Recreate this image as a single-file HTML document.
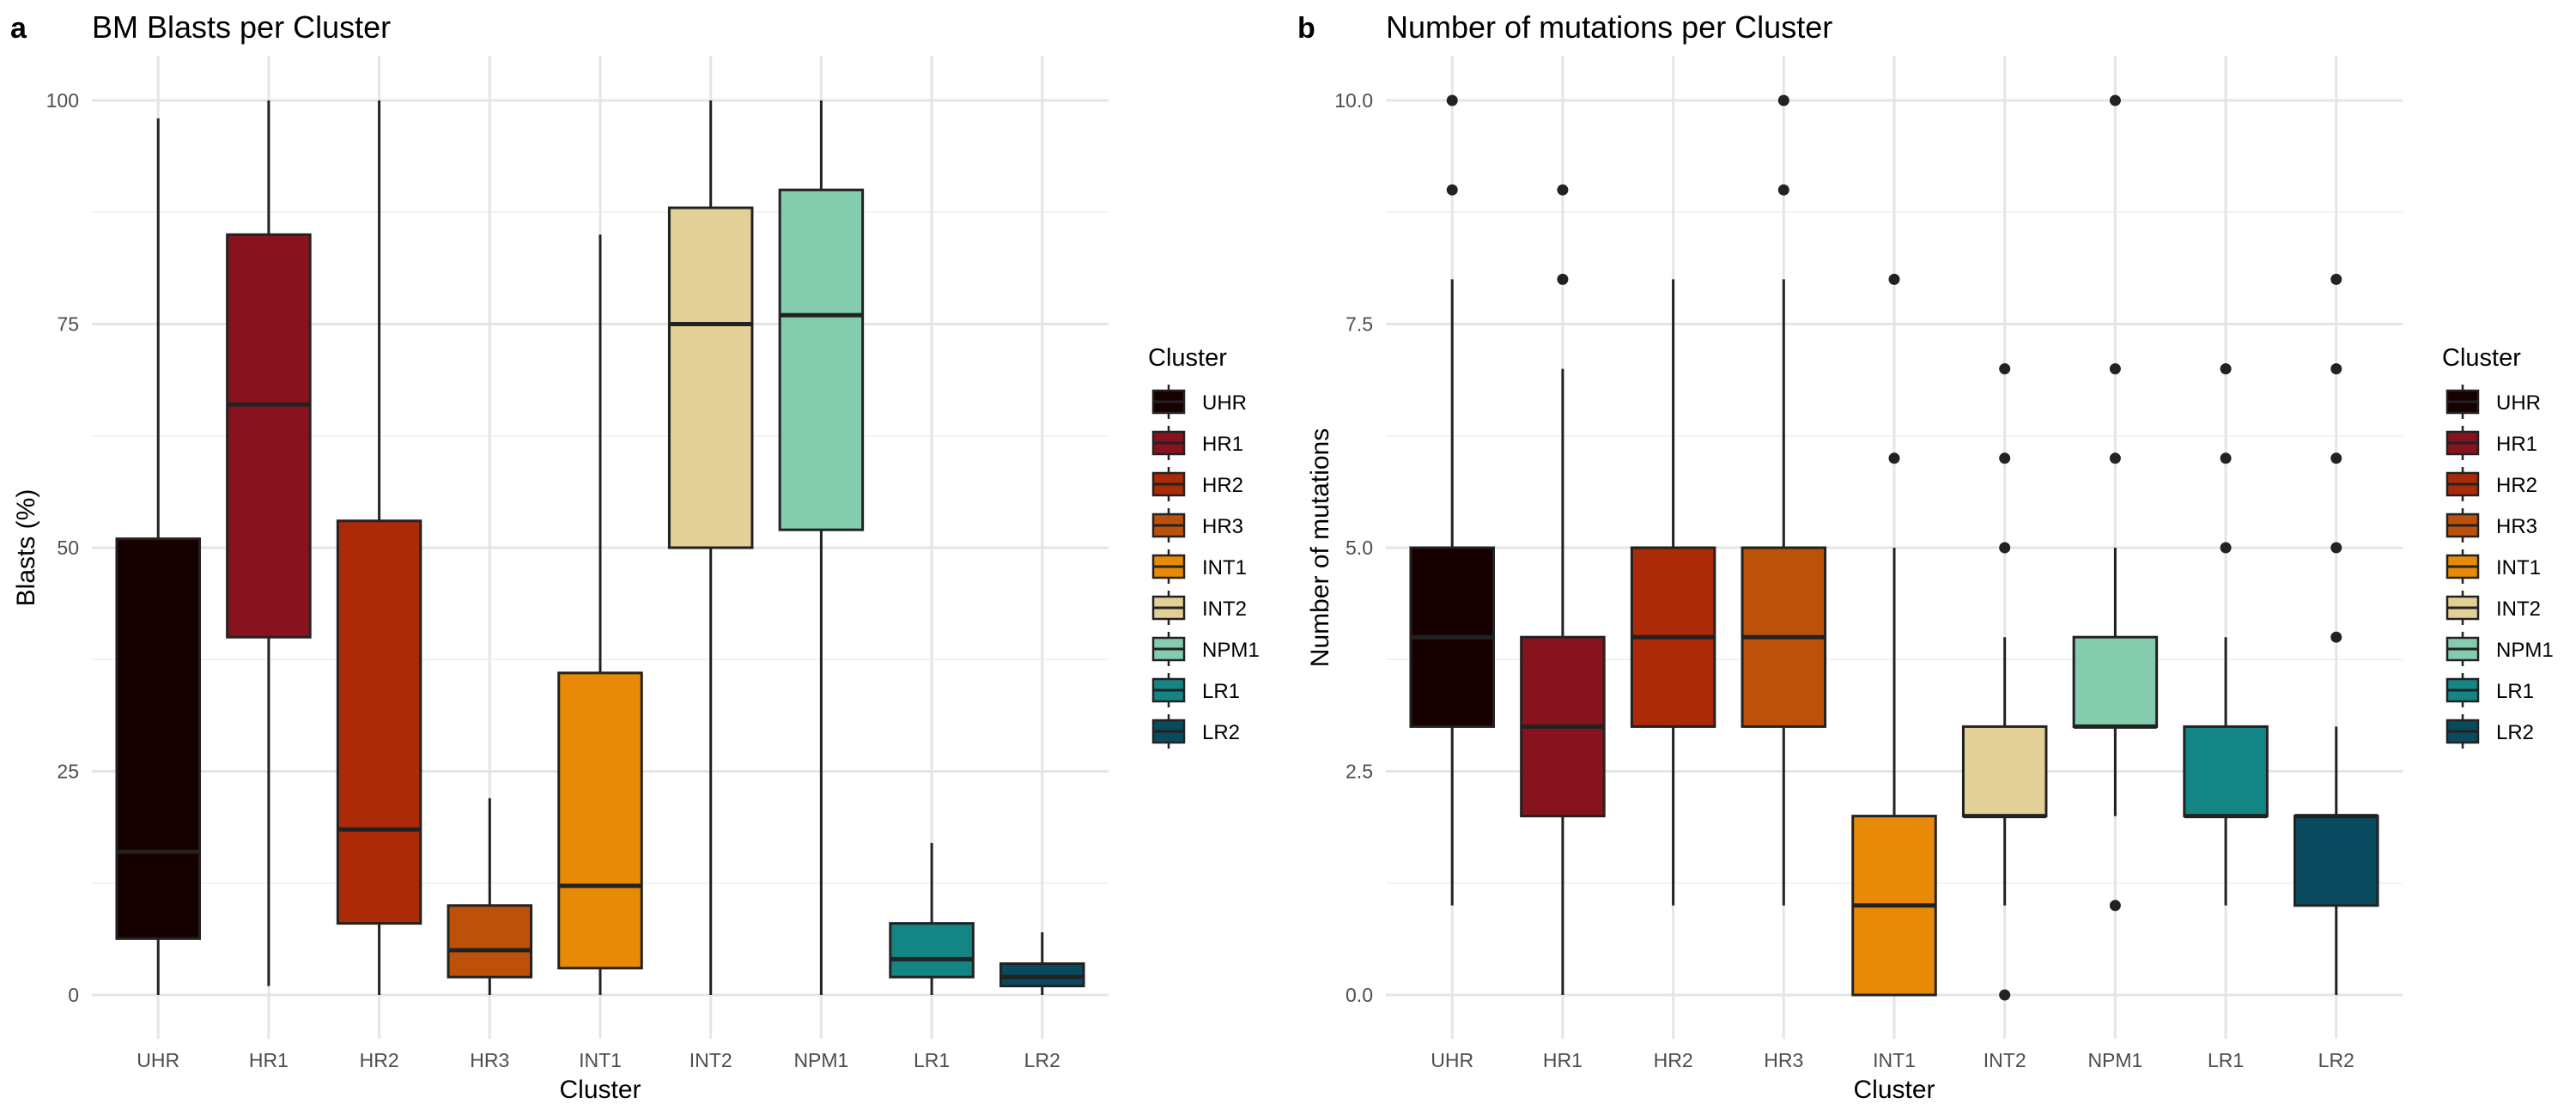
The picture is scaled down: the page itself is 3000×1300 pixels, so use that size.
<!DOCTYPE html>
<html><head><meta charset="utf-8"><style>
body{margin:0;background:#fff;}
svg{display:block;font-family:"Liberation Sans",Arial,sans-serif;}
</style></head><body>
<svg id="chart" width="3000" height="1300" viewBox="0 0 3000 1300"></svg>
<script>
const categories = ["UHR","HR1","HR2","HR3","INT1","INT2","NPM1","LR1","LR2"];
const colors = ["#170000","#87131e","#ab2a07","#bc520a","#e88a07","#e2d096","#85cbad","#148585","#0a4a5e"];
// Panel a: BM blasts [min, q1, median, q3, max]
const blastsMin = [0,1,0,0,0,0,0,0,0];
const blastsQ1 = [6.3,40,8,2,3,50,52,2,1];
const blastsMed = [16,66,18.5,5,12.2,75,76,4,2];
const blastsQ3 = [51,85,53,10,36,88,90,8,3.5];
const blastsMax = [98,100,100,22,85,100,100,17,7];
const blastsOutliers = [[],[],[],[],[],[],[],[],[]];
const blastsTicks = [0,25,50,75,100];
const blastsTickLabels = ["0","25","50","75","100"];
// Panel b: number of mutations
const mutMin = [1,0,1,1,0,1,2,1,0];
const mutQ1 = [3,2,3,3,0,2,3,2,1];
const mutMed = [4,3,4,4,1,2,3,2,2];
const mutQ3 = [5,4,5,5,2,3,4,3,2];
const mutMax = [8,7,8,8,5,4,5,4,3];
const mutOutliers = [[9,10],[8,9],[],[9,10],[6,8],[0,5,6,7],[1,6,7,10],[5,6,7],[4,5,6,7,8]];
const mutTicks = [0,2.5,5,7.5,10];
const mutTickLabels = ["0.0","2.5","5.0","7.5","10.0"];

const NS="http://www.w3.org/2000/svg";
const svg=document.getElementById('chart');
function mk(tag,attrs,parent){const e=document.createElementNS(NS,tag);for(const k in attrs)e.setAttribute(k,attrs[k]);(parent||svg).appendChild(e);return e;}

function panel(off,letter,title,ytitle,mins,q1s,meds,q3s,maxs,outs,ticks,tickLabels,ymax,letterX){
  const g=mk('g',{});
  
  
  const L=107+off,R=1291+off,T=65,B=1210;
  const y0=1159,y1=117;
  const ys=v=>y0+(y1-y0)*v/ymax;
  const step=(R-L)/(categories.length-1+1.2);
  const xs=i=>L+step*(0.6+i);
  const bw=step*0.75;
  for(let i=0;i<ticks.length-1;i++){
    const v=(ticks[i]+ticks[i+1])/2;
    const l=mk('line',{x1:L,x2:R,y1:ys(v),y2:ys(v),stroke:'#efefef','stroke-width':1.5},g);
    
    
  }
  ticks.forEach((v,i)=>{
    const l=mk('line',{x1:L,x2:R,y1:ys(v),y2:ys(v),stroke:'#e5e5e5','stroke-width':3},g);
    
    
    const t=mk('text',{x:L-15,y:ys(v)+8,'text-anchor':'end','font-size':23,fill:'#4d4d4d'},g);
    t.textContent=tickLabels[i];
    
    
  });
  categories.forEach((c,i)=>{
    const l=mk('line',{x1:xs(i),x2:xs(i),y1:T,y2:B,stroke:'#e5e5e5','stroke-width':3},g);
    
    
    const t=mk('text',{x:xs(i),y:1243,'text-anchor':'middle','font-size':23,fill:'#4d4d4d'},g);
    t.textContent=c;
    
    
  });
  categories.forEach((c,i)=>{
    const x=xs(i);
    const w=mk('line',{x1:x,x2:x,y1:ys(maxs[i]),y2:ys(mins[i]),stroke:'#222','stroke-width':3},g);
    
    
    const r=mk('rect',{x:x-bw/2,y:ys(q3s[i]),width:bw,height:Math.max(0.5,ys(q1s[i])-ys(q3s[i])),fill:colors[i],stroke:'#222','stroke-width':3},g);
    
    
    const m=mk('line',{x1:x-bw/2,x2:x+bw/2,y1:ys(meds[i]),y2:ys(meds[i]),stroke:'#222','stroke-width':5},g);
    
    
    outs[i].forEach(v=>{
      const d=mk('circle',{cx:x,cy:ys(v),r:6.5,fill:'#222'},g);
      
      
    });
  });
  const lt=mk('text',{x:letterX,y:44,'font-size':34,'font-weight':'bold',fill:'#000'},g);
  lt.textContent=letter;
  
  
  const tt=mk('text',{x:L,y:44,'font-size':36,fill:'#000'},g);
  tt.textContent=title;
  
  
  const xt=mk('text',{x:(L+R)/2,y:1279,'text-anchor':'middle','font-size':30,fill:'#000'},g);
  xt.textContent='Cluster';
  
  
  const cy=(y0+y1)/2;
  const yt=mk('text',{x:0,y:0,'text-anchor':'middle','font-size':30,fill:'#000',transform:`translate(${off+40},${cy}) rotate(-90)`},g);
  yt.textContent=ytitle;
  
  
  const lg=mk('g',{},g);
  
  
  const ltt=mk('text',{x:1337+off,y:426,'font-size':29,fill:'#000'},lg);
  ltt.textContent='Cluster';
  
  
  categories.forEach((c,i)=>{
    const cyk=468+48*i;
    const e=mk('g',{},lg);
    
    
    mk('line',{x1:1361+off,x2:1361+off,y1:cyk-20,y2:cyk+20,stroke:'#222','stroke-width':2.5},e);
    mk('rect',{x:1343+off,y:cyk-13,width:36,height:26,fill:colors[i],stroke:'#222','stroke-width':2.5},e);
    mk('line',{x1:1343+off,x2:1379+off,y1:cyk,y2:cyk,stroke:'#222','stroke-width':3},e);
    const t=mk('text',{x:1400+off,y:cyk+9,'font-size':24,fill:'#000'},e);
    t.textContent=c;
  });
}
panel(0,'a','BM Blasts per Cluster','Blasts (%)',blastsMin,blastsQ1,blastsMed,blastsQ3,blastsMax,blastsOutliers,blastsTicks,blastsTickLabels,100,12);
panel(1507,'b','Number of mutations per Cluster','Number of mutations',mutMin,mutQ1,mutMed,mutQ3,mutMax,mutOutliers,mutTicks,mutTickLabels,10,1511);
</script>
</body></html>
